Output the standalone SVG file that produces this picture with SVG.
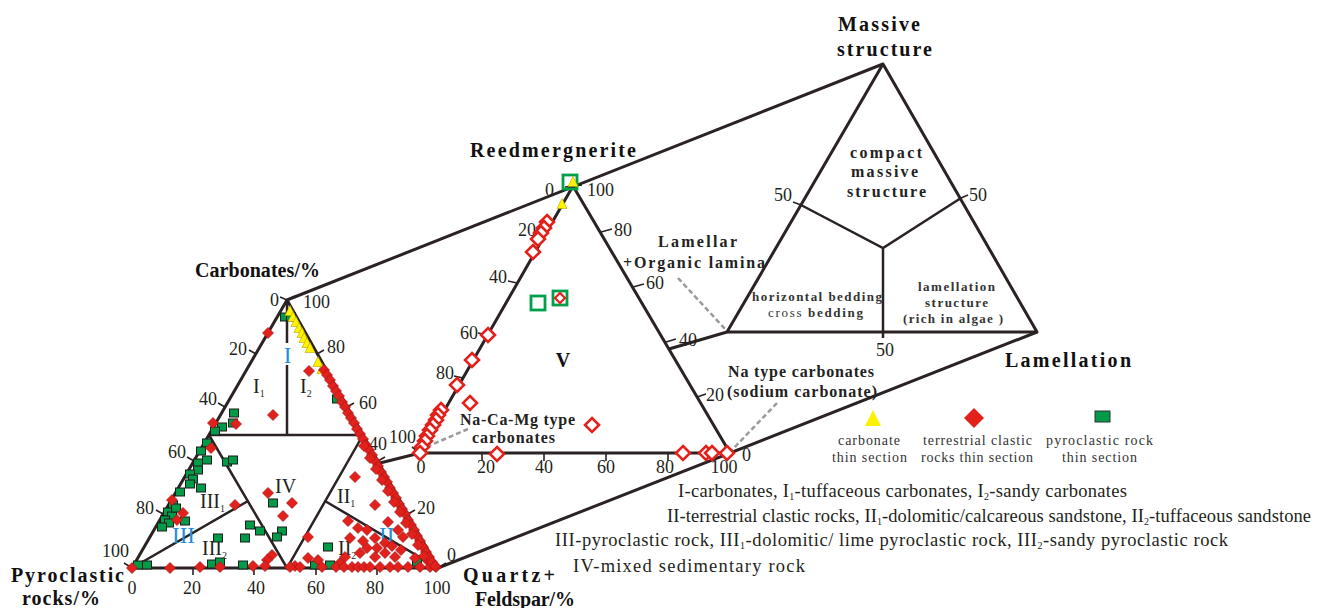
<svg xmlns="http://www.w3.org/2000/svg" xmlns:xlink="http://www.w3.org/1999/xlink" width="1323" height="608" viewBox="0 0 1323 608">
<style>
.ln{stroke:#2a2223;stroke-width:3;fill:none;stroke-linejoin:round}
.in{stroke:#2a2223;stroke-width:2.5;fill:none}
.tk{stroke:#2a2223;stroke-width:1.6;fill:none}
.dash{stroke:#9a9a9a;stroke-width:2.5;stroke-dasharray:5 3;fill:none}
.num{font-family:"Liberation Serif","Times New Roman",serif;font-size:18px;fill:#231f20}
.rn{font-family:"Liberation Serif","Times New Roman",serif;font-size:20px;fill:#231f20}
.blue{font-family:"Liberation Serif","Times New Roman",serif;font-size:23px;fill:#1e8fd8}
.tt{font-family:"Liberation Serif","Times New Roman",serif;font-size:20px;font-weight:bold;fill:#111}
.lb{font-family:"Liberation Serif","Times New Roman",serif;font-size:16px;font-weight:bold;fill:#222}
.sm{font-family:"Liberation Serif","Times New Roman",serif;font-size:13px;font-weight:bold;fill:#333}
.lg{font-family:"Liberation Serif","Times New Roman",serif;font-size:14px;fill:#333}
.nt{font-family:"Liberation Serif","Times New Roman",serif;font-size:18.5px;fill:#231f20}
.sub{font-size:10px}
</style>
<defs>
<path id="d" d="M0-5.5L5.5 0 0 5.5-5.5 0z" fill="#e3211c" stroke="#9e1414" stroke-width=".7"/>
<rect id="s" x="-4.5" y="-4" width="9" height="8" fill="#009a48" stroke="#1d1d1b" stroke-width="1"/>
<path id="t" d="M0-5.5L5 4.5H-5z" fill="#fff200" stroke="#b8a400" stroke-width=".6"/>
<path id="hd" d="M0-7L7 0 0 7-7 0z" fill="#fff" stroke="#e3211c" stroke-width="2.6"/>
<path id="hds" d="M0-5L5 0 0 5-5 0z" fill="#fff" stroke="#e3211c" stroke-width="2.2"/>
<rect id="hs" x="-7" y="-7" width="14" height="14" fill="none" stroke="#00a04a" stroke-width="2.8"/>
</defs>
<rect width="1323" height="608" fill="#fff"/>

<!-- connectors / funnel lines -->
<g id="connectors">
<line class="ln" x1="287" y1="300" x2="883" y2="64"/>
<line class="ln" x1="438" y1="568" x2="1037" y2="332"/>
<line class="ln" x1="380" y1="463" x2="420" y2="453"/>
<line class="ln" x1="669" y1="349" x2="727" y2="332"/>
<line class="dash" x1="678" y1="278" x2="726" y2="330"/>
<line class="dash" x1="777" y1="403" x2="732" y2="450"/>
<line class="dash" x1="468" y1="429" x2="424" y2="448"/>
</g>

<!-- left ternary triangle -->
<g id="left-triangle">
<path class="ln" d="M287 300L132 568H438Z"/>
<line class="in" x1="287" y1="300" x2="287" y2="435"/>
<line class="in" x1="209" y1="435" x2="363" y2="435"/>
<path class="in" d="M209 435L287 568L363 435"/>
<line class="in" x1="132" y1="568" x2="248" y2="501"/>
<line class="in" x1="438" y1="568" x2="325" y2="501"/>
<!-- ticks -->
<path class="tk" d="M256 354l-7-4M225 407l-7-4M194 461l-7-4M163 514l-7-4M132 568l-8-5M287 300l-7-3M317 354l7-4M347 407l7-4M378 461l7-4M408 514l7-4M438 568l8-5M287 300l8-4M193 568v7M254 568v7M316 568v7M377 568v7"/>
<text class="num" x="279" y="306" text-anchor="end">0</text>
<text class="num" x="247" y="355" text-anchor="end">20</text>
<text class="num" x="217" y="405" text-anchor="end">40</text>
<text class="num" x="186" y="458" text-anchor="end">60</text>
<text class="num" x="154" y="514" text-anchor="end">80</text>
<text class="num" x="129" y="557" text-anchor="end">100</text>
<text class="num" x="303" y="308">100</text>
<text class="num" x="327" y="353">80</text>
<text class="num" x="359" y="409">60</text>
<text class="num" x="369" y="450">40</text>
<text class="num" x="417" y="514">20</text>
<text class="num" x="447" y="561">0</text>
<text class="num" x="132" y="594" text-anchor="middle">0</text>
<text class="num" x="192" y="594" text-anchor="middle">20</text>
<text class="num" x="256" y="594" text-anchor="middle">40</text>
<text class="num" x="316" y="594" text-anchor="middle">60</text>
<text class="num" x="375" y="594" text-anchor="middle">80</text>
<text class="num" x="437" y="594" text-anchor="middle">100</text>
<text class="tt" x="195" y="277" textLength="125" lengthAdjust="spacing">Carbonates/%</text>
<text class="tt" x="11" y="582" textLength="113" lengthAdjust="spacing">Pyroclastic</text>
<text class="tt" x="22" y="605" textLength="78" lengthAdjust="spacing">rocks/%</text>
<text class="tt" x="463" y="582" textLength="92" lengthAdjust="spacing">Quartz+</text>
<text class="tt" x="475" y="606" textLength="100" lengthAdjust="spacing">Feldspar/%</text>
<!-- region labels -->
<rect x="282" y="343" width="11" height="22" fill="#fff"/>
<text class="blue" x="287.5" y="363" text-anchor="middle">I</text>
<text class="rn" x="253" y="393">I<tspan class="sub" dy="4">1</tspan></text>
<text class="rn" x="300" y="393">I<tspan class="sub" dy="4">2</tspan></text>
<text class="rn" x="275" y="493">IV</text>
<text class="rn" x="337" y="503">II<tspan class="sub" dy="4">1</tspan></text>
<text class="blue" x="379" y="543">II</text>
<text class="rn" x="338" y="555">II<tspan class="sub" dy="4">2</tspan></text>
<text class="rn" x="200" y="508">III<tspan class="sub" dy="4">1</tspan></text>
<text class="blue" x="172" y="543">III</text>
<text class="rn" x="202" y="555">III<tspan class="sub" dy="4">2</tspan></text>
<!-- data: green squares -->
<g>
<use href="#s" x="285" y="317"/><use href="#s" x="291" y="317"/><use href="#s" x="337" y="399"/>
<use href="#s" x="234" y="413"/><use href="#s" x="233" y="423"/><use href="#s" x="222" y="427"/>
<use href="#s" x="215" y="431"/><use href="#s" x="207" y="443"/><use href="#s" x="201" y="451"/>
<use href="#s" x="207" y="460"/><use href="#s" x="198" y="463"/><use href="#s" x="227" y="462"/>
<use href="#s" x="198" y="470"/><use href="#s" x="190" y="474"/><use href="#s" x="193" y="479"/>
<use href="#s" x="190" y="484"/><use href="#s" x="201" y="488"/><use href="#s" x="180" y="492"/>
<use href="#s" x="173" y="505"/><use href="#s" x="168" y="512"/><use href="#s" x="172" y="516"/>
<use href="#s" x="165" y="520"/><use href="#s" x="169" y="523"/><use href="#s" x="162" y="527"/>
<use href="#s" x="185" y="521"/><use href="#s" x="176" y="508"/><use href="#s" x="147" y="565"/>
<use href="#s" x="138" y="565"/><use href="#s" x="212" y="564"/><use href="#s" x="220" y="562"/>
<use href="#s" x="218" y="538"/><use href="#s" x="233" y="460"/><use href="#s" x="273" y="503"/>
<use href="#s" x="250" y="525"/><use href="#s" x="260" y="531"/><use href="#s" x="282" y="531"/>
<use href="#s" x="277" y="537"/><use href="#s" x="245" y="538"/><use href="#s" x="328" y="547"/>
<use href="#s" x="417" y="562"/><use href="#s" x="243" y="565"/><use href="#s" x="315" y="565"/>
<use href="#s" x="330" y="565"/>
</g>
<!-- data: yellow triangles -->
<g>
<use href="#t" x="290" y="311"/><use href="#t" x="293" y="317"/><use href="#t" x="296" y="322"/>
<use href="#t" x="299" y="328"/><use href="#t" x="302" y="333"/><use href="#t" x="304" y="338"/>
<use href="#t" x="307" y="343"/><use href="#t" x="310" y="348"/><use href="#t" x="318" y="362"/>
<use href="#t" x="322" y="369"/>
</g>
<!-- data: red diamonds -->
<g>
<use href="#d" x="268" y="333"/><use href="#d" x="309" y="371"/><use href="#d" x="273" y="415"/>
<use href="#d" x="236" y="424"/><use href="#d" x="213" y="423"/><use href="#d" x="211" y="448"/>
<use href="#d" x="172" y="500"/><use href="#d" x="177" y="520"/><use href="#d" x="183" y="513"/>
<use href="#d" x="132" y="568"/><use href="#d" x="170" y="568"/><use href="#d" x="235" y="505"/>
<use href="#d" x="355" y="477"/><use href="#d" x="268" y="493"/><use href="#d" x="292" y="503"/>
<use href="#d" x="283" y="516"/><use href="#d" x="308" y="537"/><use href="#d" x="375" y="505"/>
<use href="#d" x="348" y="521"/><use href="#d" x="358" y="528"/><use href="#d" x="367" y="530"/>
<use href="#d" x="398" y="530"/><use href="#d" x="403" y="537"/><use href="#d" x="350" y="538"/>
<use href="#d" x="375" y="538"/><use href="#d" x="367" y="548"/><use href="#d" x="377" y="548"/>
<use href="#d" x="385" y="553"/><use href="#d" x="395" y="557"/><use href="#d" x="375" y="557"/>
<use href="#d" x="272" y="555"/><use href="#d" x="267" y="560"/><use href="#d" x="415" y="558"/>
<use href="#d" x="427" y="560"/><use href="#d" x="253" y="566"/><use href="#d" x="265" y="566"/>
<use href="#d" x="295" y="566"/><use href="#d" x="308" y="558"/><use href="#d" x="318" y="560"/>
<use href="#d" x="385" y="543"/><use href="#d" x="392" y="546"/><use href="#d" x="360" y="553"/>
<use href="#d" x="345" y="557"/><use href="#d" x="340" y="563"/><use href="#d" x="388" y="522"/>
<use href="#d" x="363" y="541"/><use href="#d" x="401" y="550"/>
<use href="#d" x="290" y="567"/><use href="#d" x="300" y="567"/><use href="#d" x="322" y="567"/>
<use href="#d" x="336" y="567"/><use href="#d" x="344" y="567"/><use href="#d" x="352" y="567"/>
<use href="#d" x="358" y="567"/><use href="#d" x="364" y="567"/><use href="#d" x="370" y="567"/>
<use href="#d" x="380" y="567"/><use href="#d" x="390" y="567"/><use href="#d" x="398" y="567"/>
<use href="#d" x="408" y="567"/><use href="#d" x="420" y="567"/><use href="#d" x="430" y="567"/>
<use href="#d" x="436" y="567"/><use href="#d" x="220" y="567"/><use href="#d" x="200" y="567"/>
<!-- right-edge chain -->
<use href="#d" x="324" y="370"/><use href="#d" x="327" y="375"/><use href="#d" x="330" y="380"/>
<use href="#d" x="333" y="386"/><use href="#d" x="336" y="391"/><use href="#d" x="339" y="396"/>
<use href="#d" x="342" y="402"/><use href="#d" x="345" y="407"/><use href="#d" x="348" y="413"/>
<use href="#d" x="351" y="418"/><use href="#d" x="354" y="423"/><use href="#d" x="357" y="429"/>
<use href="#d" x="360" y="434"/><use href="#d" x="363" y="439"/><use href="#d" x="366" y="445"/>
<use href="#d" x="369" y="450"/><use href="#d" x="372" y="455"/><use href="#d" x="375" y="461"/>
<use href="#d" x="378" y="466"/><use href="#d" x="381" y="472"/><use href="#d" x="384" y="477"/>
<use href="#d" x="387" y="482"/><use href="#d" x="390" y="488"/><use href="#d" x="393" y="493"/>
<use href="#d" x="396" y="498"/><use href="#d" x="399" y="504"/><use href="#d" x="402" y="509"/>
<use href="#d" x="405" y="514"/><use href="#d" x="408" y="520"/><use href="#d" x="411" y="525"/>
<use href="#d" x="414" y="530"/><use href="#d" x="417" y="536"/><use href="#d" x="420" y="541"/>
<use href="#d" x="423" y="547"/><use href="#d" x="426" y="552"/><use href="#d" x="429" y="557"/>
<use href="#d" x="432" y="562"/><use href="#d" x="435" y="566"/>
<use href="#d" x="364" y="446"/><use href="#d" x="370" y="458"/><use href="#d" x="376" y="469"/>
<use href="#d" x="382" y="480"/><use href="#d" x="388" y="491"/><use href="#d" x="394" y="502"/>
<use href="#d" x="400" y="512"/><use href="#d" x="406" y="523"/><use href="#d" x="412" y="534"/>
<use href="#d" x="418" y="545"/><use href="#d" x="424" y="556"/>
</g>
</g>

<!-- middle ternary triangle -->
<g id="middle-triangle">
<path class="ln" d="M573 186L420 453H730Z"/>
<path class="tk" d="M545 235l-9-2M517 283l-9-2M487 335l-9-2M463 378l-9-2M420 453l-8-6M573 186l-8 1M601 232l11-3M633 287l11-3M666 342l10-3M697 397l9-3M730 453l9-4M573 186l9-1M482 453v8M544 453v8M606 453v8M668 453v8"/>
<text class="num" x="554" y="196" text-anchor="end">0</text>
<text class="num" x="536" y="236" text-anchor="end">20</text>
<text class="num" x="507" y="283" text-anchor="end">40</text>
<text class="num" x="478" y="339" text-anchor="end">60</text>
<text class="num" x="454" y="379" text-anchor="end">80</text>
<text class="num" x="416" y="443" text-anchor="end">100</text>
<text class="num" x="587" y="196">100</text>
<text class="num" x="614" y="236">80</text>
<text class="num" x="646" y="289">60</text>
<text class="num" x="679" y="346">40</text>
<text class="num" x="706" y="401">20</text>
<text class="num" x="742" y="461">0</text>
<text class="num" x="421" y="473" text-anchor="middle">0</text>
<text class="num" x="486" y="473" text-anchor="middle">20</text>
<text class="num" x="544" y="473" text-anchor="middle">40</text>
<text class="num" x="606" y="473" text-anchor="middle">60</text>
<text class="num" x="665" y="473" text-anchor="middle">80</text>
<text class="num" x="724" y="473" text-anchor="middle">100</text>
<text class="tt" x="470" y="157" textLength="166" lengthAdjust="spacing">Reedmergnerite</text>
<text class="tt" x="563" y="367" text-anchor="middle">V</text>
<text class="lb" x="460" y="425" textLength="115" lengthAdjust="spacing">Na-Ca-Mg type</text>
<text class="lb" x="472" y="443" textLength="83" lengthAdjust="spacing">carbonates</text>
<text class="lb" x="658" y="247" textLength="79" lengthAdjust="spacing">Lamellar</text>
<text class="lb" x="623" y="268" textLength="142" lengthAdjust="spacing">+Organic lamina</text>
<text class="lb" x="728" y="377" textLength="146" lengthAdjust="spacing">Na type carbonates</text>
<text class="lb" x="727" y="397" textLength="150" lengthAdjust="spacing">(sodium carbonate)</text>
<g>
<use href="#hs" x="570" y="182"/>
<use href="#t" x="573" y="182"/>
<use href="#t" x="562" y="204"/>
<use href="#hs" x="538" y="303"/>
<use href="#hs" x="560" y="298"/>
<use href="#hds" x="560" y="298"/>
<use href="#hd" x="547" y="222"/><use href="#hd" x="544" y="228"/><use href="#hd" x="541" y="233"/>
<use href="#hd" x="538" y="239"/><use href="#hd" x="533" y="252"/>
<use href="#hd" x="488" y="335"/><use href="#hd" x="472" y="360"/><use href="#hd" x="457" y="385"/>
<use href="#hd" x="470" y="403"/><use href="#hd" x="441" y="410"/><use href="#hd" x="438" y="415"/>
<use href="#hd" x="436" y="420"/><use href="#hd" x="433" y="425"/><use href="#hd" x="430" y="430"/>
<use href="#hd" x="427" y="436"/><use href="#hd" x="425" y="441"/><use href="#hd" x="422" y="447"/>
<use href="#hd" x="420" y="453"/><use href="#hd" x="592" y="425"/><use href="#hd" x="497" y="454"/>
<use href="#hd" x="683" y="453"/><use href="#hd" x="706" y="453"/><use href="#hd" x="712" y="453"/>
<use href="#hd" x="727" y="453"/>
</g>
</g>

<!-- right ternary triangle -->
<g id="right-triangle">
<path class="ln" d="M883 64L727 332H1037Z"/>
<path class="in" d="M801 205L883 248L961 198M883 248V338"/>
<path class="tk" d="M801 205l-8-3M961 198l7-3"/>
<text class="num" x="792" y="201" text-anchor="end">50</text>
<text class="num" x="969" y="201">50</text>
<text class="num" x="885" y="356" text-anchor="middle">50</text>
<text class="tt" x="838" y="31" textLength="82" lengthAdjust="spacing">Massive</text>
<text class="tt" x="837" y="56" textLength="95" lengthAdjust="spacing">structure</text>
<text class="lb" x="850" y="158" textLength="72" lengthAdjust="spacing">compact</text>
<text class="lb" x="851" y="177" textLength="67" lengthAdjust="spacing">massive</text>
<text class="lb" x="847" y="197" textLength="79" lengthAdjust="spacing">structure</text>
<text class="sm" x="752" y="301" textLength="130" lengthAdjust="spacing">horizontal bedding</text>
<text class="sm" x="768" y="317" textLength="95" lengthAdjust="spacing"><tspan font-weight="normal">cross </tspan> bedding</text>
<text class="sm" x="918" y="291" textLength="77" lengthAdjust="spacing">lamellation</text>
<text class="sm" x="925" y="307" textLength="63" lengthAdjust="spacing">structure</text>
<text class="sm" x="903" y="323" textLength="100" lengthAdjust="spacing">(rich in algae )</text>
<text class="tt" x="1005" y="367" textLength="126" lengthAdjust="spacing">Lamellation</text>
</g>

<!-- legend -->
<g id="legend">
<path d="M873 410L881 426H865Z" fill="#fff200"/>
<path d="M974 408L984 418 974 428 964 418Z" fill="#e3211c"/>
<rect x="1095" y="411" width="15" height="11" fill="#009a48" stroke="#333" stroke-width="1"/>
<text class="lg" x="838" y="445" textLength="62" lengthAdjust="spacing">carbonate</text>
<text class="lg" x="832" y="462" textLength="75" lengthAdjust="spacing">thin section</text>
<text class="lg" x="923" y="445" textLength="109" lengthAdjust="spacing">terrestrial clastic</text>
<text class="lg" x="921" y="462" textLength="112" lengthAdjust="spacing">rocks thin section</text>
<text class="lg" x="1046" y="445" textLength="107" lengthAdjust="spacing">pyroclastic  rock</text>
<text class="lg" x="1062" y="462" textLength="75" lengthAdjust="spacing">thin section</text>
</g>

<!-- notes -->
<g id="notes">
<text class="nt" x="678" y="497" textLength="449" lengthAdjust="spacing">I-carbonates, I<tspan class="sub" dy="3">1</tspan><tspan dy="-3">-tuffaceous carbonates, I</tspan><tspan class="sub" dy="3">2</tspan><tspan dy="-3">-sandy carbonates</tspan></text>
<text class="nt" x="667" y="522" textLength="644" lengthAdjust="spacing">II-terrestrial clastic rocks, II<tspan class="sub" dy="3">1</tspan><tspan dy="-3">-dolomitic/calcareous sandstone, II</tspan><tspan class="sub" dy="3">2</tspan><tspan dy="-3">-tuffaceous sandstone</tspan></text>
<text class="nt" x="555" y="546" textLength="673" lengthAdjust="spacing">III-pyroclastic  rock, III<tspan class="sub" dy="3">1</tspan><tspan dy="-3">-dolomitic/ lime pyroclastic  rock, III</tspan><tspan class="sub" dy="3">2</tspan><tspan dy="-3">-sandy pyroclastic  rock</tspan></text>
<text class="nt" x="573" y="572" textLength="232" lengthAdjust="spacing">IV-mixed sedimentary rock</text>
</g>
</svg>
